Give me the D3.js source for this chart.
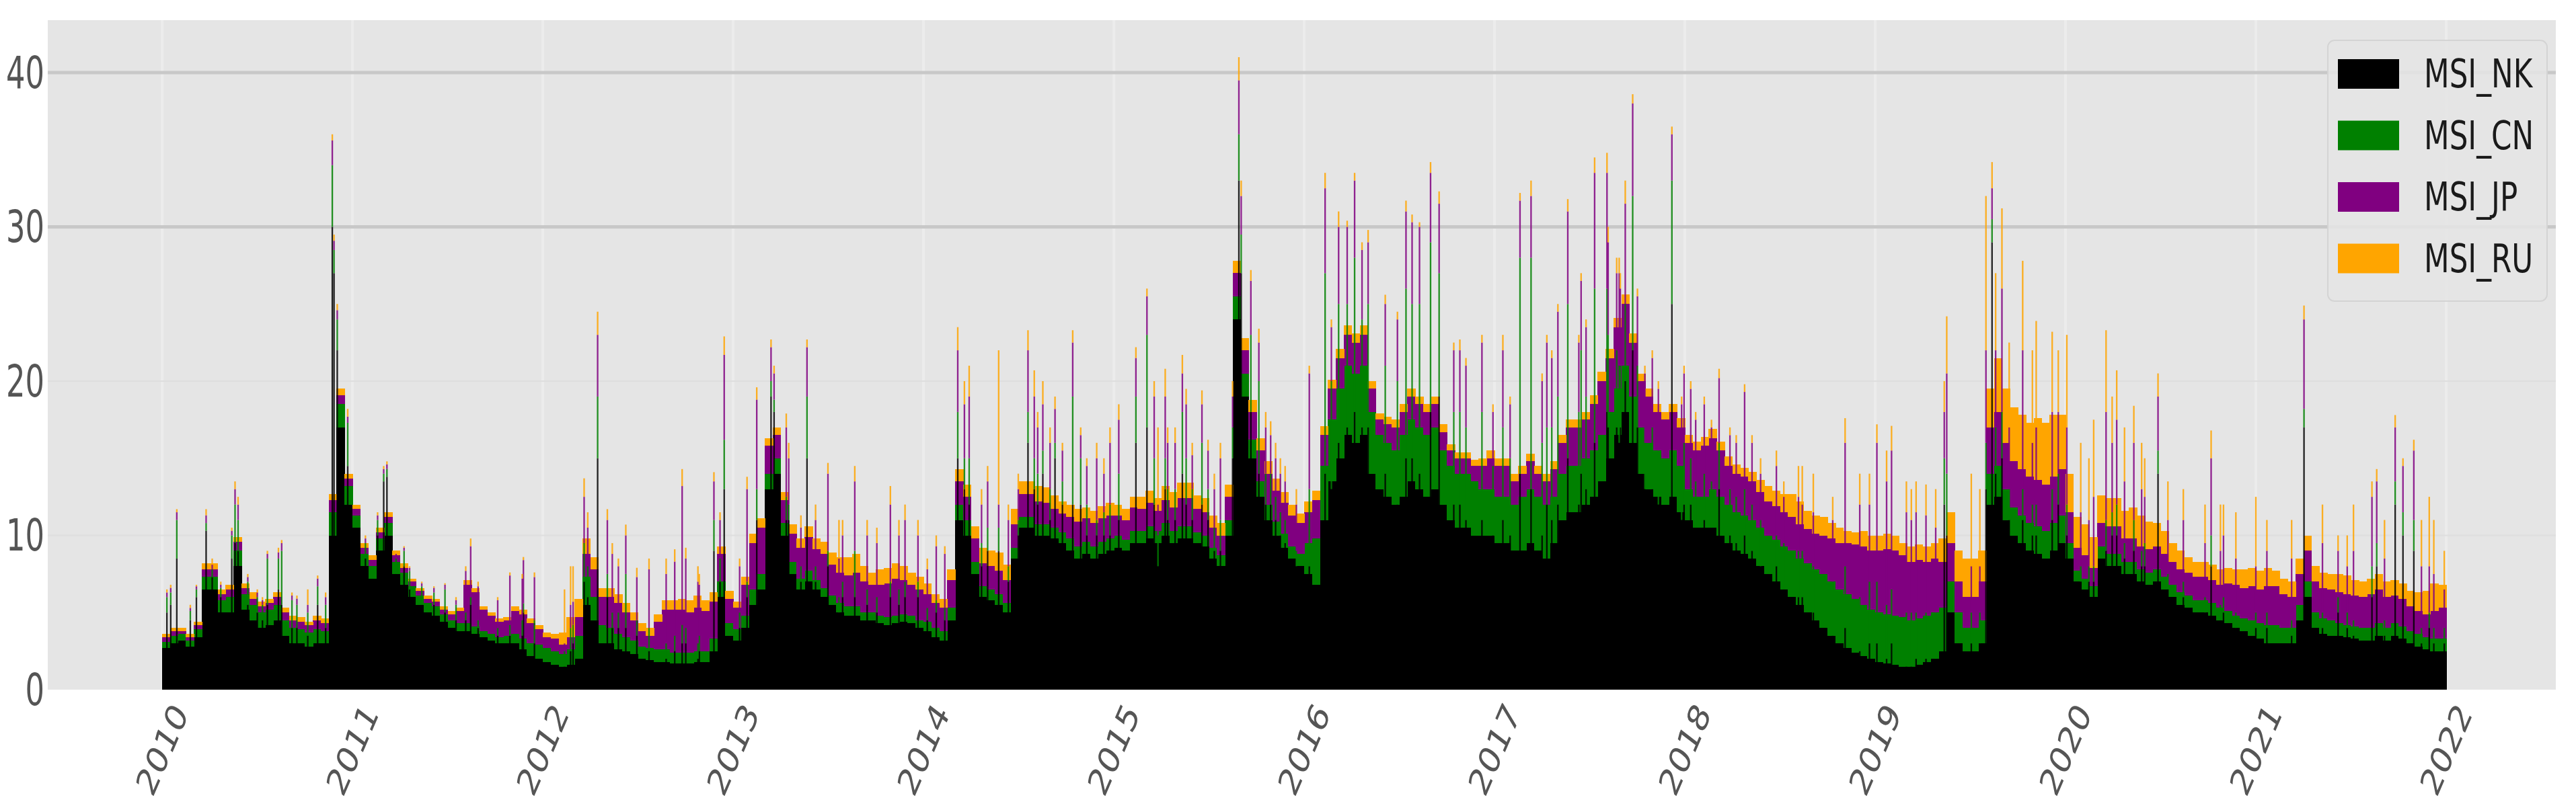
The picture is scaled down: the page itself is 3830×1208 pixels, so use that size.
<!DOCTYPE html>
<html><head><meta charset="utf-8">
<script src="https://cdn.jsdelivr.net/npm/d3@7"></script>
<style>body{margin:0;background:#fff;} svg{display:block}</style>
</head><body>
<svg id="chart" width="3830" height="1208"></svg>
<script>
// ---------- data ----------
const seriesKeys = ["MSI_NK", "MSI_CN", "MSI_JP", "MSI_RU"];
const seriesColors = ["#000000", "#008000", "#800080", "#ffa500"];
const yearTicks = [2010, 2011, 2012, 2013, 2014, 2015, 2016, 2017, 2018, 2019, 2020, 2021, 2022];
const yTicks = [0, 10, 20, 30, 40];
const firstYear = 2010;       // half-month periods start here
const periodsPerYear = 24;

// typical (half-month) level of each index, 2010-01 .. 2021-12
const nk = [
 2.7,3.0,3.2,2.8,3.4,6.5,6.5,5.0,5.0,8.0,5.2,4.5,4.0,4.2,4.5,3.5,3.0,3.0,2.8,3.0,3.0,10,17,12,
 10.5,8.0,7.2,9.0,10.0,7.5,6.8,6.0,5.5,5.0,4.8,4.4,4.0,3.8,3.8,3.6,3.4,3.2,3.0,3.0,3.0,2.6,2.2,2.0,
 1.8,1.6,1.5,1.6,2.0,5.5,4.5,3.0,3.0,2.6,2.5,2.3,2.0,1.9,1.8,1.8,1.7,1.7,1.7,1.8,1.8,2.5,6.0,3.5,
 3.2,4.0,5.5,6.5,13.0,14.0,10.0,7.5,6.5,7.0,6.5,6.0,5.5,5.0,4.8,4.8,4.5,4.5,4.3,4.2,4.3,4.4,4.3,4.0,
 3.8,3.4,3.2,4.5,11.0,10.0,7.5,6.0,5.8,5.5,5.0,8.5,10.5,10.5,10.0,10.0,9.8,9.5,9.0,8.5,8.8,8.5,8.8,9.0,
 9.2,9.0,9.5,9.5,9.8,9.5,10.0,9.5,9.8,9.8,9.5,9.3,8.5,8.0,10.0,24.0,19.0,15.0,12.5,11.0,10.0,9.2,8.5,8.0,
 7.5,6.8,11.0,13.5,15.0,16.5,16.0,16.5,14.0,13.0,12.5,12.0,12.5,13.5,13.0,12.5,13.0,12.0,11.0,10.5,10.5,10.0,10.0,10.0,
 9.5,9.5,9.0,9.0,9.5,9.0,8.5,9.5,11.0,11.5,11.5,12.0,12.5,13.5,15.0,16.5,18.0,16.0,14.0,13.0,12.5,12.0,12.5,11.5,
 11.0,10.5,10.5,10.5,10.0,9.5,9.0,8.8,8.5,8.0,7.5,7.0,6.5,6.0,5.5,5.0,4.5,4.0,3.5,3.0,2.7,2.4,2.2,2.0,
 1.8,1.7,1.6,1.5,1.5,1.6,1.8,2.0,2.5,5.0,3.0,2.5,2.5,3.0,12.0,12.5,11.0,10.0,9.5,9.0,8.8,8.5,9.0,9.5,
 8.5,7.0,6.5,6.0,8.5,8.0,8.0,7.5,7.5,7.0,6.8,7.0,6.5,6.0,5.5,5.3,5.0,5.0,4.8,4.5,4.3,4.0,3.8,3.5,
 3.3,3.0,3.0,3.0,3.0,4.5,6.0,4.0,3.6,3.5,3.5,3.4,3.3,3.2,3.2,3.5,3.2,3.5,3.3,3.0,2.8,2.6,2.5,2.5
];
const cn = [
 0.4,0.5,0.4,0.4,0.5,0.8,0.8,0.8,1.0,1.0,1.0,1.0,1.0,1.0,1.0,1.0,1.0,0.9,0.9,0.9,0.8,1.5,1.5,1.2,
 0.8,0.8,0.8,0.8,0.8,0.8,0.8,0.7,0.6,0.6,0.6,0.5,0.5,0.5,0.5,0.5,0.4,0.4,0.4,0.5,0.6,0.7,0.8,0.9,
 0.9,0.9,0.8,1.0,1.5,1.8,1.5,1.2,1.0,1.0,0.9,0.9,0.8,0.8,0.8,0.8,0.7,0.7,0.7,0.7,0.7,0.8,1.0,0.8,
 0.7,0.8,1.0,1.0,1.0,1.0,0.8,0.8,0.7,0.7,0.6,0.6,0.6,0.6,0.6,0.6,0.5,0.5,0.5,0.5,0.5,0.5,0.5,0.5,
 0.6,0.6,0.6,0.8,1.0,1.0,0.8,0.7,0.7,0.7,0.6,0.7,0.7,0.7,0.7,0.7,0.7,0.7,0.8,0.8,0.8,0.8,0.8,0.8,
 0.8,0.7,0.8,0.8,0.8,0.8,0.8,0.8,0.8,0.8,0.7,0.7,0.7,0.7,1.0,1.5,1.5,1.2,1.0,1.0,0.9,0.9,0.8,0.8,
 2.0,3.0,3.5,4.0,4.5,4.5,4.5,4.5,4.0,3.5,3.5,3.5,4.0,4.0,4.0,4.0,4.0,3.5,3.5,3.5,3.5,3.5,3.0,3.0,
 3.0,3.0,3.0,3.5,3.5,3.5,3.5,3.0,3.0,3.0,3.0,3.0,3.0,3.0,3.0,3.0,3.0,3.0,3.0,3.0,3.0,3.0,3.0,3.0,
 2.0,2.0,2.0,2.5,2.5,2.5,2.5,2.5,2.5,2.5,2.5,2.7,2.8,3.0,3.0,3.2,3.3,3.5,3.5,3.5,3.5,3.5,3.3,3.2,
 3.2,3.2,3.2,3.2,3.0,3.0,3.0,3.0,2.8,2.0,2.0,1.5,1.5,1.5,2.0,2.0,2.0,1.8,1.8,1.8,1.8,1.8,1.8,1.8,
 1.0,0.7,0.7,0.7,0.8,0.8,0.8,0.8,0.8,0.8,0.8,0.8,0.8,0.8,0.8,0.8,0.8,0.8,0.8,0.8,0.8,0.8,0.8,1.0,
 1.0,1.2,1.2,1.0,1.0,1.0,1.0,1.0,1.0,1.0,0.8,0.8,0.8,0.8,0.8,0.8,0.8,0.8,0.8,0.8,0.8,0.8,0.8,0.8
];
const jp = [
 0.3,0.3,0.2,0.2,0.3,0.5,0.5,0.4,0.5,0.6,0.4,0.4,0.4,0.4,0.5,0.5,0.5,0.5,0.5,0.6,0.5,0.8,0.6,0.5,
 0.4,0.4,0.4,0.4,0.4,0.4,0.3,0.3,0.3,0.3,0.3,0.3,0.4,0.8,2.5,2.2,1.4,1.2,1.0,1.0,1.5,1.6,1.3,1.0,
 0.7,0.8,0.6,0.8,1.2,1.5,1.8,1.8,2.0,2.0,1.6,1.3,1.0,0.8,1.8,2.6,2.8,2.8,2.6,2.8,2.6,2.4,1.8,1.6,
 1.4,2.0,3.0,3.0,1.8,1.5,1.5,1.8,2.0,2.2,2.0,2.2,2.0,2.0,2.0,2.2,2.0,1.8,2.0,2.2,2.4,2.2,2.0,2.0,
 1.8,1.6,1.5,1.8,1.5,1.5,1.5,1.5,1.5,1.5,1.5,1.5,1.5,1.5,1.5,1.4,1.2,1.2,1.4,1.6,1.5,1.5,1.5,1.5,
 1.3,1.3,1.5,1.4,1.5,1.3,1.5,1.5,1.8,1.8,1.5,1.5,1.3,1.3,1.5,1.5,1.5,1.8,2.0,2.0,2.0,2.0,2.0,2.0,
 2.0,2.5,2.0,2.0,2.0,2.0,2.0,2.0,1.5,1.0,1.2,1.5,1.5,1.5,1.5,1.5,1.5,1.2,1.0,1.0,1.0,1.0,1.5,2.0,
 2.0,2.0,1.5,1.5,1.8,1.5,1.5,1.8,2.0,2.5,2.5,2.5,3.0,3.5,3.5,4.0,4.0,3.5,3.0,3.0,2.5,2.5,2.5,2.5,
 3.0,3.0,3.3,3.3,3.0,2.5,2.5,2.5,2.5,2.3,2.2,2.2,2.2,2.2,2.2,2.2,2.3,2.5,2.8,3.0,3.3,3.5,3.8,3.8,
 4.0,4.2,4.2,4.0,3.8,3.8,3.5,3.5,3.0,2.5,2.0,2.0,2.0,2.5,3.0,3.5,3.0,3.0,3.0,3.0,3.0,3.0,3.0,3.0,
 2.0,1.5,1.5,1.2,1.5,1.8,1.8,1.5,1.5,1.5,1.5,1.5,1.5,1.5,1.5,1.5,1.5,1.5,1.5,1.5,1.8,2.0,2.0,2.2,
 2.2,2.5,2.5,2.2,2.0,2.0,2.0,2.0,2.0,2.0,2.0,2.0,2.0,2.0,2.2,2.2,2.0,1.8,1.8,1.6,1.5,1.5,1.8,2.0
];
const ru = [
 0.2,0.2,0.2,0.2,0.2,0.4,0.4,0.3,0.3,0.3,0.3,0.4,0.3,0.3,0.3,0.3,0.3,0.3,0.2,0.3,0.3,0.4,0.4,0.3,
 0.3,0.3,0.3,0.3,0.3,0.3,0.3,0.2,0.2,0.2,0.2,0.2,0.2,0.2,0.3,0.3,0.2,0.2,0.2,0.2,0.3,0.3,0.3,0.3,
 0.3,0.3,0.8,1.3,1.2,1.0,0.8,0.6,0.6,0.6,0.6,0.5,0.5,0.5,0.5,0.6,0.6,0.7,0.8,0.8,0.7,0.6,0.5,0.5,
 0.4,0.5,0.6,0.6,0.5,0.5,0.5,0.6,0.6,0.7,0.7,0.8,0.8,1.0,1.2,1.2,1.0,0.8,1.0,1.0,1.0,0.9,0.8,0.8,
 0.7,0.6,0.6,0.7,0.8,0.8,0.8,1.0,1.0,1.2,1.0,1.0,0.8,0.8,1.0,1.0,0.9,0.8,0.8,0.8,0.7,0.8,0.8,0.8,
 0.7,0.7,0.7,0.8,0.8,0.8,0.9,1.0,1.0,1.0,0.9,0.9,0.8,0.8,0.8,0.8,0.8,0.8,0.8,0.8,0.8,0.7,0.7,0.6,
 0.7,0.6,0.6,0.6,0.6,0.6,0.6,0.6,0.5,0.4,0.5,0.5,0.5,0.5,0.5,0.5,0.5,0.5,0.4,0.4,0.4,0.4,0.5,0.5,
 0.5,0.5,0.5,0.5,0.5,0.5,0.5,0.5,0.5,0.5,0.5,0.5,0.6,0.6,0.6,0.6,0.6,0.6,0.5,0.5,0.5,0.5,0.5,0.6,
 0.5,0.6,0.6,0.6,0.6,0.6,0.6,0.6,0.6,0.8,1.0,1.0,1.2,1.5,1.5,1.2,1.2,1.2,1.0,1.0,0.8,0.8,1.0,1.0,
 1.0,1.0,1.0,0.8,1.0,1.0,1.0,1.0,1.5,2.0,2.0,2.5,2.5,2.0,2.5,3.5,3.5,3.5,3.5,3.5,4.0,4.0,4.0,3.5,
 2.5,2.0,2.0,2.0,1.8,1.8,1.8,1.8,2.0,2.0,1.8,1.5,1.5,1.2,1.2,1.0,1.0,1.0,1.0,1.0,1.0,1.0,1.2,1.2,
 1.2,1.2,1.0,1.0,1.0,1.0,1.0,1.0,1.0,1.0,1.2,1.2,1.0,1.0,1.0,1.0,1.0,1.0,1.0,1.0,1.2,1.5,1.8,1.5
];

// individual high days: [decimal year, NK, CN, JP, RU]
const spikes = [
 [2010.025,5.0,1.0,0.3,0.2],[2010.045,5.5,0.8,0.3,0.2],[2010.077,8.5,2.5,0.5,0.2],[2010.148,4.5,0.6,0.2,0.2],
 [2010.18,6.0,0.5,0.2,0.1],[2010.231,10.3,0.5,0.5,0.4],[2010.263,7.3,0.5,0.3,0.4],[2010.308,6.0,0.6,0.2,0.2],
 [2010.366,8.5,1.5,0.3,0.2],[2010.383,9.5,2.5,1.0,0.5],[2010.399,9.0,2.0,1.0,0.5],[2010.45,5.5,1.5,0.3,0.2],
 [2010.5,5.0,1.0,0.3,0.2],[2010.527,4.5,1.0,0.3,0.2],[2010.553,5.5,3.0,0.3,0.2],[2010.611,6.5,2.0,0.4,0.3],
 [2010.628,5.5,3.5,0.5,0.2],[2010.682,4.0,1.8,0.3,0.2],[2010.708,4.0,1.5,0.4,0.2],[2010.765,3.5,1.5,0.5,1.0],
 [2010.817,5.5,1.2,0.5,0.2],[2010.859,4.0,1.5,0.5,0.3],
 [2010.894,30.0,4.0,1.6,0.4],[2010.903,27.0,1.5,0.6,0.4],[2010.92,22.0,2.0,0.6,0.4],[2010.975,14.5,2.8,0.4,0.5],
 [2011.068,8.5,1.0,0.3,0.2],[2011.132,10.0,1.0,0.3,0.2],[2011.164,13.5,0.5,0.3,0.2],[2011.181,13.8,0.5,0.3,0.2],
 [2011.229,7.5,1.0,0.3,0.1],[2011.271,8.0,1.0,0.2,0.1],[2011.3,6.5,1.2,0.2,0.1],[2011.364,5.5,1.2,0.2,0.1],
 [2011.428,5.5,0.8,0.3,0.1],[2011.486,5.0,1.5,0.3,0.1],[2011.544,4.5,1.0,0.3,0.2],[2011.595,4.5,0.5,2.7,0.3],
 [2011.621,5.5,0.5,3.3,0.5],[2011.66,4.0,0.5,2.2,0.3],[2011.763,3.5,0.5,1.8,0.2],[2011.827,3.5,0.7,3.2,0.2],
 [2011.892,3.5,1.0,2.7,0.3],[2011.898,5.0,0.6,2.8,0.2],[2011.956,3.0,1.5,2.8,0.3],
 [2012.114,1.5,1.0,0.5,3.5],[2012.146,2.5,1.5,1.5,2.5],[2012.159,3.0,1.2,1.5,2.3],[2012.217,7.0,2.5,3.0,1.2],
 [2012.236,6.0,2.0,2.5,1.0],[2012.288,15.0,4.0,4.0,1.5],[2012.339,6.0,1.5,3.5,0.7],[2012.365,4.0,1.0,3.8,0.7],
 [2012.397,4.0,1.0,3.0,0.5],[2012.436,4.0,3.5,2.5,0.7],[2012.494,3.5,1.0,2.8,0.6],[2012.558,2.5,1.5,3.8,0.7],
 [2012.648,2.0,1.0,4.5,1.0],[2012.693,2.5,1.0,4.8,0.8],[2012.732,3.0,1.2,9.0,1.1],[2012.751,3.0,1.0,4.5,0.7],
 [2012.815,2.0,1.0,4.0,1.0],[2012.822,2.5,1.0,3.3,0.7],[2012.899,9.0,2.0,2.5,0.6],[2012.931,7.0,1.5,2.5,0.5],
 [2012.953,13.0,3.2,5.5,1.2],
 [2013.034,4.0,1.0,3.0,0.5],[2013.073,6.0,1.0,6.0,0.8],[2013.124,11.0,2.0,5.8,0.8],[2013.199,19.0,1.0,2.2,0.5],
 [2013.215,18.0,0.8,1.7,0.5],[2013.279,11.0,1.5,4.5,0.9],[2013.292,11.0,1.0,3.0,1.0],[2013.356,7.0,1.0,2.5,0.8],
 [2013.388,15.0,4.0,3.2,0.5],[2013.433,7.0,1.0,3.0,1.0],[2013.498,8.0,1.0,5.0,0.7],[2013.556,5.0,1.0,2.5,2.5],
 [2013.575,6.0,1.0,3.0,1.0],[2013.639,6.0,3.0,4.5,1.0],[2013.704,5.5,1.0,3.5,1.0],[2013.755,5.0,1.0,3.5,1.0],
 [2013.826,6.0,1.0,5.0,1.2],[2013.871,5.5,1.0,3.5,1.0],[2013.903,6.0,1.0,4.0,1.0],[2013.971,6.0,1.0,3.0,1.0],
 [2014.02,4.5,0.8,2.5,0.7],[2014.067,5.0,0.8,3.5,0.7],[2014.112,4.5,0.8,3.5,0.5],[2014.18,15.0,3.0,4.0,1.5],
 [2014.215,13.0,2.0,3.5,1.5],[2014.24,12.0,3.0,4.0,2.0],[2014.305,8.0,1.5,2.5,1.0],[2014.337,9.0,1.5,3.0,1.0],
 [2014.395,9.0,1.5,1.5,10.0],[2014.446,7.0,1.0,3.0,1.0],[2014.498,10.0,1.0,2.0,1.0],[2014.549,16.0,2.0,4.0,1.3],
 [2014.582,13.0,2.0,4.0,1.7],[2014.6,12.0,2.0,3.0,1.0],[2014.627,14.0,1.5,3.0,1.5],[2014.665,11.0,2.0,3.0,1.0],
 [2014.691,15.0,1.0,2.2,0.8],[2014.73,12.0,1.5,2.0,0.5],[2014.784,12.0,7.0,3.5,0.8],[2014.826,12.0,3.0,1.5,0.5],
 [2014.858,10.0,2.0,2.5,0.5],[2014.91,10.0,1.0,4.0,1.0],[2014.948,10.0,1.5,2.5,1.0],[2014.98,10.0,2.0,4.0,1.0],
 [2015.026,11.0,3.0,3.5,1.0],[2015.116,16.0,3.0,2.5,0.7],[2015.174,17.0,6.0,2.5,0.5],[2015.212,12.0,3.0,4.0,1.0],
 [2015.232,8.0,2.0,2.0,5.0],[2015.27,13.0,2.0,4.0,1.8],[2015.283,11.0,2.0,3.0,1.0],[2015.322,11.0,2.0,3.0,1.0],
 [2015.36,14.0,4.0,2.5,1.2],[2015.38,12.0,3.0,3.5,1.0],[2015.412,11.0,2.0,2.2,0.8],[2015.463,12.0,4.0,2.5,0.9],
 [2015.495,11.0,2.0,2.5,0.7],[2015.528,9.0,1.5,2.5,1.0],[2015.56,9.0,2.0,4.0,1.0],[2015.624,15.0,2.0,2.0,1.0],
 [2015.657,33.0,3.0,3.5,1.5],[2015.669,27.0,2.5,2.5,1.0],[2015.72,18.0,5.0,3.5,0.7],[2015.762,14.0,6.0,2.5,0.9],
 [2015.798,12.0,2.0,3.0,1.0],[2015.824,12.0,2.0,2.5,0.9],[2015.85,11.0,1.5,2.5,1.0],[2015.875,10.0,1.5,2.5,1.0],
 [2015.9,9.5,1.5,2.5,1.0],[2015.959,8.0,1.0,3.0,1.0],
 [2016.027,8.0,5.0,7.5,0.5],[2016.11,14.0,13.0,5.5,1.0],[2016.143,13.0,7.0,3.5,0.5],[2016.181,16.0,9.0,5.0,1.0],
 [2016.226,17.0,8.0,5.0,0.4],[2016.265,18.0,10.0,5.0,0.5],[2016.304,17.0,7.0,4.5,0.5],[2016.336,17.0,8.0,4.0,0.8],
 [2016.426,14.0,7.0,4.0,0.6],[2016.49,12.0,8.0,4.0,0.5],[2016.535,15.0,11.0,5.0,0.7],[2016.567,15.0,10.0,5.3,0.5],
 [2016.606,14.0,11.0,5.0,0.3],[2016.664,18.0,11.0,4.5,0.7],[2016.709,19.0,8.0,4.5,0.8],[2016.786,12.0,6.0,4.0,0.5],
 [2016.818,12.0,6.0,4.0,0.7],[2016.85,11.0,6.0,4.0,0.5],[2016.934,11.0,7.0,4.5,0.5],[2016.992,10.0,4.5,3.5,0.5],
 [2017.044,11.0,6.0,5.0,1.0],[2017.082,10.0,5.0,3.5,0.5],[2017.134,14.0,14.0,3.7,0.5],[2017.192,13.0,15.0,4.0,1.0],
 [2017.25,10.0,6.0,4.0,0.5],[2017.275,12.0,5.0,5.5,0.5],[2017.301,11.0,6.0,4.5,0.5],[2017.333,12.0,7.0,5.5,0.5],
 [2017.385,15.0,10.0,6.0,0.8],[2017.443,12.0,6.0,4.5,0.5],[2017.455,14.0,8.0,4.5,0.5],[2017.481,13.0,6.0,4.5,0.5],
 [2017.526,16.0,10.0,7.5,1.0],[2017.591,18.0,8.0,7.5,1.3],[2017.597,17.0,6.0,6.0,1.0],[2017.642,17.0,5.0,5.0,1.0],
 [2017.655,16.0,5.0,6.0,1.0],[2017.661,17.0,4.0,5.0,1.0],[2017.687,20.0,5.0,6.5,1.5],[2017.726,22.0,10.0,6.0,0.6],
 [2017.751,17.0,4.0,4.5,0.5],[2017.79,13.0,3.0,4.5,0.5],[2017.829,13.0,4.0,4.5,0.5],[2017.861,12.0,3.5,4.0,0.5],
 [2017.932,25.0,8.0,3.0,0.5],[2017.983,11.0,3.5,4.0,0.5],[2017.996,12.0,4.0,4.5,0.5],
 [2018.031,12.0,3.0,4.5,0.5],[2018.057,10.5,3.0,4.0,0.5],[2018.102,11.0,3.0,4.5,0.5],[2018.14,10.5,3.0,3.5,0.5],
 [2018.18,13.0,3.0,4.2,0.6],[2018.237,10.0,3.0,3.5,0.5],[2018.27,9.5,3.0,3.5,0.5],[2018.314,10.0,3.0,6.3,0.5],
 [2018.353,9.0,3.0,4.0,0.5],[2018.398,8.0,3.0,3.0,1.0],[2018.481,8.0,2.0,4.5,1.0],[2018.52,6.5,3.0,3.0,1.0],
 [2018.597,6.0,3.0,3.5,2.0],[2018.617,6.0,3.0,3.0,2.5],[2018.675,5.0,3.0,3.5,2.5],[2018.777,3.5,3.5,4.0,1.5],
 [2018.842,4.0,4.0,8.0,1.6],[2018.919,2.5,3.5,6.0,2.0],[2018.97,3.0,4.0,5.0,2.0],
 [2019.009,3.0,4.0,9.0,1.2],[2019.06,2.0,3.5,8.0,2.0],[2019.086,3.0,3.5,9.0,1.6],[2019.164,1.5,3.5,6.5,2.0],
 [2019.19,1.5,3.5,6.0,2.0],[2019.215,2.0,3.0,6.5,2.0],[2019.267,2.0,3.0,6.3,2.0],[2019.318,2.0,3.0,5.5,2.5],
 [2019.363,12.0,3.0,3.0,2.0],[2019.376,10.0,4.0,6.5,3.7],[2019.505,3.0,2.0,3.0,6.0],[2019.55,3.0,2.0,3.0,5.0],
 [2019.582,13.0,3.0,6.0,10.0],[2019.614,29.0,1.5,2.0,1.7],[2019.633,14.0,3.0,5.0,5.0],[2019.666,15.0,3.0,8.0,5.2],
 [2019.704,11.0,2.0,4.0,5.5],[2019.775,11.0,2.0,9.0,5.8],[2019.826,10.0,2.0,4.0,6.0],[2019.846,10.0,2.0,5.0,6.9],
 [2019.93,11.0,2.0,5.0,5.2],[2019.962,12.0,2.0,4.0,4.0],
 [2020.007,10.0,2.0,5.0,6.0],[2020.08,7.0,1.0,3.5,4.5],[2020.123,7.0,1.0,3.0,4.0],[2020.148,7.0,1.0,4.5,5.0],
 [2020.213,9.0,2.0,7.0,5.3],[2020.245,10.0,1.5,4.5,3.0],[2020.269,10.0,2.0,5.5,3.2],[2020.31,8.5,1.0,4.0,3.5],
 [2020.359,9.0,2.0,5.0,2.4],[2020.4,8.0,1.0,4.0,3.0],[2020.416,8.0,1.5,3.0,2.5],[2020.486,14.0,1.5,3.5,1.5],
 [2020.538,6.5,1.0,3.5,2.5],[2020.619,6.0,1.0,4.0,2.0],[2020.733,5.0,1.0,3.5,2.5],[2020.765,8.0,2.0,5.0,1.8],
 [2020.814,4.5,1.0,3.5,3.0],[2020.83,5.0,1.0,4.0,2.0],[2020.895,4.0,1.0,3.5,3.0],
 [2021.0,4.0,1.0,3.0,4.5],[2021.058,4.0,1.0,4.0,2.0],[2021.188,3.5,1.0,4.0,2.5],[2021.253,17.0,1.2,5.8,0.9],
 [2021.35,4.0,1.0,4.5,2.5],[2021.432,5.0,1.0,3.0,1.0],[2021.48,4.0,1.0,3.0,2.0],[2021.513,3.5,1.0,4.5,3.0],
 [2021.61,6.0,2.0,4.5,1.0],[2021.635,8.0,1.5,4.0,0.8],[2021.676,3.5,1.0,4.0,2.5],[2021.732,12.0,1.5,3.5,0.8],
 [2021.773,10.0,1.5,3.0,0.5],[2021.83,9.0,2.0,4.5,0.7],[2021.87,3.0,1.0,4.0,3.0],[2021.911,4.0,1.0,3.0,4.5],
 [2021.935,3.0,1.0,3.5,3.5],[2021.99,3.0,1.0,2.5,2.5]
];

// ---------- layout ----------
const plot = {left: 71, right: 3800, top: 30, bottom: 1026};
const svg = d3.select("#chart");
const x = d3.scaleLinear().domain([2009.399, 2022.576]).range([plot.left, plot.right]);
const y = d3.scaleLinear().domain([0, 40]).range([plot.bottom, 108]);

svg.append("rect").attr("x", plot.left).attr("y", plot.top)
  .attr("width", plot.right - plot.left).attr("height", plot.bottom - plot.top).attr("fill", "#e5e5e5");

// grid
svg.append("g").selectAll("line").data(yearTicks).join("line")
  .attr("x1", d => x(d)).attr("x2", d => x(d)).attr("y1", plot.top).attr("y2", plot.bottom)
  .attr("stroke", "#ececec").attr("stroke-width", 4);
svg.append("g").selectAll("line").data(yTicks.filter(v => v > 0)).join("line")
  .attr("x1", plot.left).attr("x2", plot.right).attr("y1", d => y(d)).attr("y2", d => y(d))
  .attr("stroke", d => d >= 30 ? "#c8c8c8" : "#dedede").attr("stroke-width", d => d >= 30 ? 5 : 2);

// base bars
const periods = nk.map((v, i) => ({
  t: firstYear + i / periodsPerYear,
  MSI_NK: v, MSI_CN: cn[i], MSI_JP: jp[i], MSI_RU: ru[i]
}));
const stack = d3.stack().keys(seriesKeys);
const baseLayers = stack(periods);
const gBase = svg.append("g").attr("shape-rendering", "crispEdges");
gBase.selectAll("g").data(baseLayers).join("g").attr("fill", (d, i) => seriesColors[i])
  .selectAll("rect").data(d => d).join("rect")
  .attr("x", d => x(d.data.t))
  .attr("width", d => x(d.data.t + 1 / periodsPerYear) - x(d.data.t) + 0.6)
  .attr("y", d => y(d[1]))
  .attr("height", d => Math.max(0, y(d[0]) - y(d[1])));

// spike days
const spikeRows = spikes.map(s => ({t: s[0], MSI_NK: s[1], MSI_CN: s[2], MSI_JP: s[3], MSI_RU: s[4]}));
const spikeLayers = stack(spikeRows);
const gSpk = svg.append("g");
gSpk.selectAll("g").data(spikeLayers).join("g").attr("fill", (d, i) => seriesColors[i])
  .selectAll("rect").data(d => d).join("rect")
  .attr("x", d => x(d.data.t) - (x(d.data.t + 3 / 365) - x(d.data.t)) / 2)
  .attr("width", d => x(d.data.t + 3 / 365) - x(d.data.t))
  .attr("y", d => y(d[1]))
  .attr("height", d => Math.max(0, y(d[0]) - y(d[1])))
  .attr("opacity", 0.85);

// y tick labels
svg.append("g").selectAll("text").data(yTicks).join("text")
  .attr("transform", d => `translate(66,${y(d)}) scale(0.68,1)`)
  .attr("text-anchor", "end").attr("dominant-baseline", "central")
  .style("font-family", "'DejaVu Sans'").style("font-size", "66px").attr("fill", "#555")
  .text(d => d);

// x tick labels (rotated)
svg.append("g").selectAll("text").data(yearTicks).join("text")
  .attr("transform", d => `translate(${x(d)},1115) scale(0.75,1) rotate(-60)`)
  .attr("text-anchor", "middle").attr("dominant-baseline", "central")
  .style("font-family", "'DejaVu Sans'").style("font-size", "57px").attr("fill", "#555")
  .text(d => d);

// legend
const leg = svg.append("g");
leg.append("rect").attr("x", 3461).attr("y", 60).attr("width", 326).attr("height", 388).attr("rx", 10)
  .attr("fill", "#e5e5e5").attr("fill-opacity", 0.85).attr("stroke", "#d4d4d4").attr("stroke-width", 2);
const items = leg.selectAll("g.item").data(seriesKeys).join("g")
  .attr("transform", (d, i) => `translate(3476,${110 + i * 91.5})`);
items.append("rect").attr("x", 0).attr("y", -22).attr("width", 91).attr("height", 44)
  .attr("fill", (d, i) => seriesColors[i]);
items.append("text").attr("transform", "translate(128,0) scale(0.74,1)")
  .attr("dominant-baseline", "central")
  .style("font-family", "'DejaVu Sans'").style("font-size", "59px").attr("fill", "#1a1a1a")
  .text(d => d);
</script>
</body></html>
